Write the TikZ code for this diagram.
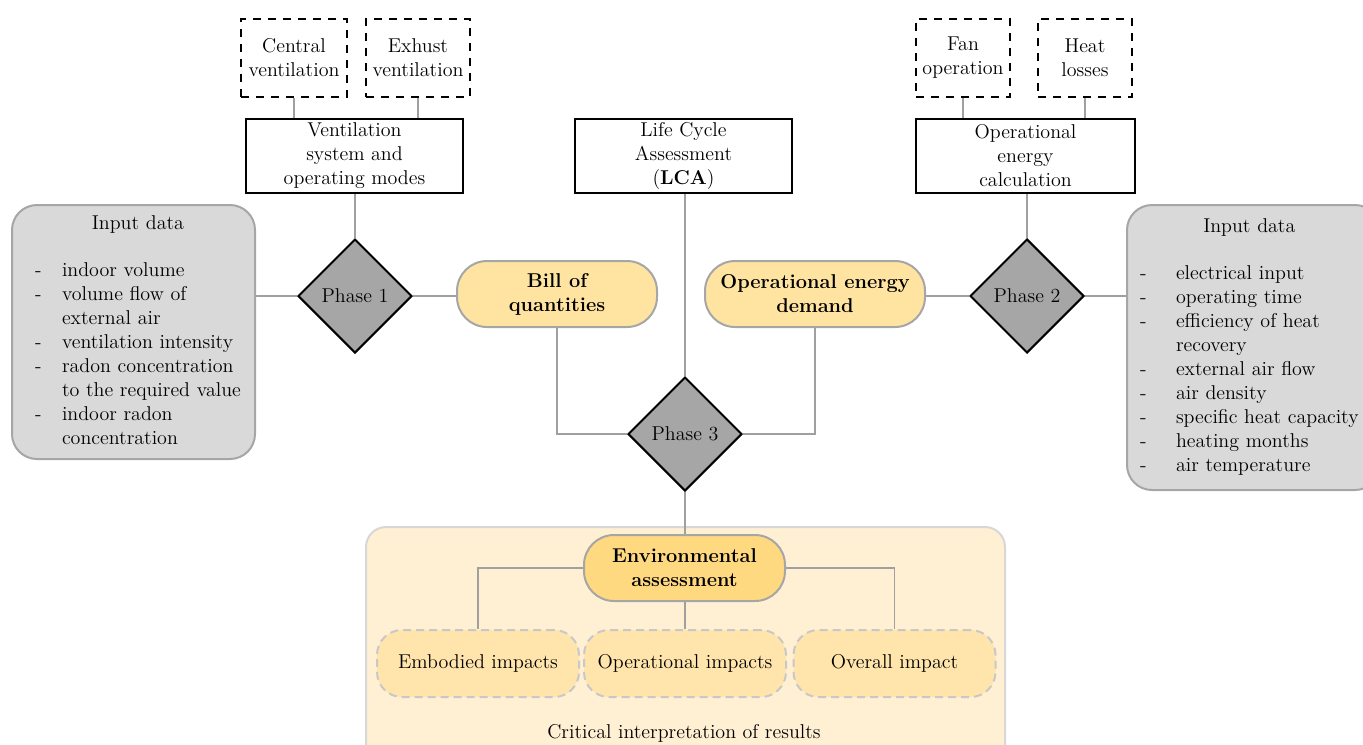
\documentclass[tikz,border=0pt]{standalone}
\usepackage{tikz}
\usetikzlibrary{shapes.geometric}
\definecolor{linkgray}{RGB}{160,160,160}
\definecolor{phasegray}{RGB}{166,166,166}
\definecolor{inputfill}{RGB}{217,217,217}
\definecolor{inputline}{RGB}{166,166,166}
\definecolor{qtyfill}{RGB}{255,228,161}
\definecolor{envfill}{RGB}{255,217,128}
\definecolor{panelfill}{RGB}{255,240,212}
\definecolor{panelline}{RGB}{215,215,215}
\definecolor{impactfill}{RGB}{255,229,172}
\definecolor{impactline}{RGB}{200,200,200}
\newcommand*{\txt}{\fontsize{12}{14.4}\selectfont}
\tikzset{every node/.style={font=\txt}}
\tikzset{choice/.style={draw, line width=1.2pt, dash pattern=on 4.8pt off 4.2pt, minimum width=63.6pt, minimum height=46.8pt, align=center, inner sep=1pt}}
\tikzset{topbox/.style={draw, line width=1.2pt, minimum width=130.2pt, minimum height=44.4pt, align=center, inner sep=1pt}}
\tikzset{phase/.style={diamond, draw=black, fill=phasegray, line width=1.2pt, minimum size=68.4pt, inner sep=0pt}}
\tikzset{result/.style={draw=inputline, line width=1.2pt, fill=qtyfill, rounded corners=18pt, minimum height=39.6pt, align=center, inner sep=1pt, font=\txt\bfseries}}
\tikzset{impact/.style={draw=impactline, fill=impactfill, line width=1.2pt, dash pattern=on 4.8pt off 3pt, rounded corners=15pt, minimum width=121.2pt, minimum height=40.2pt, inner sep=1pt}}
\tikzset{inbox/.style={draw=inputline, fill=inputfill, line width=1.2pt, rounded corners=15pt, align=left}}
\tikzset{panel/.style={draw=panelline, fill=panelfill, line width=1.2pt, rounded corners=12pt, minimum width=383.4pt, minimum height=142.8pt}}
\tikzset{link/.style={draw=linkgray, line width=0.9pt}}

\begin{document}
\begin{tikzpicture}[x=0.6pt,y=-0.6pt]
\useasboundingbox (0,0) rectangle (1363,744);
% results panel
\node[panel] (panel) at (685.5,646) {};
\node (crit) at (684,733) {Critical interpretation of results};
% top boxes
\node[choice] (cv) at (294,58) {Central\\ventilation};
\node[choice, minimum width=62.4pt] (ev) at (418,58) {Exhust\\ventilation};
\node[choice, minimum width=56.4pt] (fan) at (963,58) {Fan\\operation};
\node[choice, minimum width=56.4pt] (heat) at (1085,58) {Heat\\losses};
\node[topbox] (vent) at (354.5,156) {Ventilation\\system and\\operating modes};
\node[topbox] (lca) at (683.5,156) {Life Cycle\\Assessment\\(\textbf{LCA})};
\node[topbox, minimum width=131.4pt] (calc) at (1025.5,156) {Operational\\energy\\calculation};
% phases
\node[phase] (ph1) at (355,296) {Phase 1};
\node[phase] (ph2) at (1027,296) {Phase 2};
\node[phase] (ph3) at (685,434) {Phase 3};
\node[result, minimum width=120pt] (bill) at (557,294) {Bill of\\quantities};
\node[result, minimum width=132pt] (demand) at (815,294) {Operational energy\\demand};
% input data
\node[inbox, minimum height=152.4pt, text width=118.2pt, inner xsep=13.8pt] (inL) at (133.5,332) {%
  \begin{tabular}{@{}p{16.2pt}@{}l@{}}
  \multicolumn{2}{c}{Input data}\\[13.8pt]
  - & indoor volume\\
  - & volume flow of\\
    & external air\\
  - & ventilation intensity\\
  - & radon concentration\\
    & to the required value\\
  - & indoor radon\\
    & concentration
  \end{tabular}};
\node[inbox, minimum height=171pt, text width=136.2pt, inner xsep=7.8pt] (inR) at (1253.5,347.5) {%
  \begin{tabular}{@{}p{21.6pt}@{}l@{}}
  \multicolumn{2}{c}{Input data}\\[13.8pt]
  - & electrical input\\
  - & operating time\\
  - & efficiency of heat\\
    & recovery\\
  - & external air flow\\
  - & air density\\
  - & specific heat capacity\\
  - & heating months\\
  - & air temperature
  \end{tabular}};
% assessment
\node[result, fill=envfill, minimum width=120.6pt] (env) at (684.5,568) {Environmental\\assessment};
\node[impact] (emb) at (478,663.5) {Embodied impacts};
\node[impact] (oper) at (685,663.5) {Operational impacts};
\node[impact] (over) at (894.5,663.5) {Overall impact};
% connectors
\draw[link] (cv.south) -- (cv.south |- vent.north);
\draw[link] (ev.south) -- (ev.south |- vent.north);
\draw[link] (fan.south) -- (fan.south |- calc.north);
\draw[link] (heat.south) -- (heat.south |- calc.north);
\draw[link] (ph1.north) -- (ph1.north |- vent.south);
\draw[link] (ph2.north) -- (ph2.north |- calc.south);
\draw[link] (ph3.north) -- (ph3.north |- lca.south);
\draw[link] (ph1.west) -- (ph1.west -| inL.east);
\draw[link] (ph1.east) -- (ph1.east -| bill.west);
\draw[link] (ph2.east) -- (ph2.east -| inR.west);
\draw[link] (ph2.west) -- (ph2.west -| demand.east);
\draw[link] (bill.south) |- (ph3.west);
\draw[link] (demand.south) |- (ph3.east);
\draw[link] (ph3.south) -- (ph3.south |- env.north);
\draw[link] (env.west) -| (emb.north);
\draw[link] (env.east) -| (over.north);
\draw[link] (oper.north) -- (oper.north |- env.south);
\end{tikzpicture}
\end{document}
